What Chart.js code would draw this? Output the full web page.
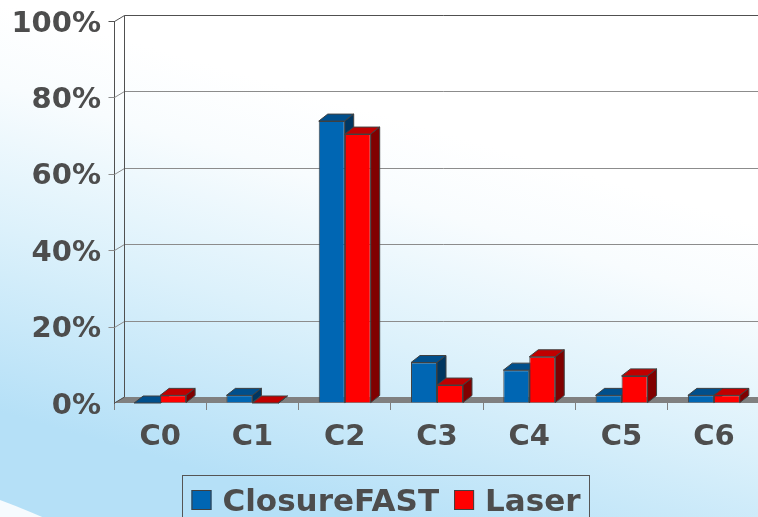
<!DOCTYPE html>
<html>
<head>
<meta charset="utf-8">
<script src="https://cdn.jsdelivr.net/npm/chart.js@4/dist/chart.umd.min.js"></script>
<style>
  html, body { margin: 0; padding: 0; overflow: hidden; background: #fff; }
  #wrap { width: 762px; height: 517px; }
</style>
</head>
<body>
<div id="wrap"><canvas id="c" width="762" height="517"></canvas></div>
<script>
// Share of cases per class, in percent
const categories = ['C0', 'C1', 'C2', 'C3', 'C4', 'C5', 'C6'];
const closureFast = [0, 2, 73.8, 10.6, 8.6, 2, 2];
const laser = [2, 0, 70.4, 4.7, 12.1, 7.1, 2];
const yTicks = [0, 20, 40, 60, 80, 100];

const TEXT = '#4d4d4d';
const FONT = '"DejaVu Sans", Verdana, sans-serif';
// front / top / side shades of each series' boxes
const SHADES = [
  { front: '#0066b3', top: '#004f8c', side: '#003660' },
  { front: '#ff0000', top: '#c00000', side: '#800000' }
];
const WALL = { dx: 10, dy: -6 };   // depth of the back wall
const BOX = { dx: 9, dy: -7 };     // depth of each bar

function poly(ctx, pts, fill, stroke) {
  ctx.beginPath();
  ctx.moveTo(pts[0][0], pts[0][1]);
  for (let i = 1; i < pts.length; i++) ctx.lineTo(pts[i][0], pts[i][1]);
  ctx.closePath();
  ctx.fillStyle = fill;
  ctx.fill();
  if (stroke) { ctx.strokeStyle = stroke; ctx.lineWidth = 1; ctx.stroke(); }
}

const scene = {
  id: 'scene3d',
  beforeDraw(chart) {
    const { ctx, width, height } = chart;
    ctx.save();
    const g = ctx.createLinearGradient(470, 140, 360, height);
    g.addColorStop(0, '#ffffff');
    g.addColorStop(0.2, '#f8fcfe');
    g.addColorStop(0.55, '#dcf1fb');
    g.addColorStop(1, '#b5e0f7');
    ctx.fillStyle = g;
    ctx.fillRect(0, 0, width, height);
    // pale swoosh in the lower left corner
    ctx.beginPath();
    ctx.ellipse(-300, 1306, 860, 860, 0, 0, Math.PI * 2);
    ctx.fillStyle = '#f6fbfe';
    ctx.fill();
    ctx.restore();
  },
  beforeDatasetsDraw(chart) {
    const { ctx, chartArea: a, scales: { y } } = chart;
    const L = a.left + 0.5, R = a.right + WALL.dx + 20;
    ctx.save();
    ctx.lineWidth = 1;
    // gridlines across the side and back walls
    y.ticks.forEach(t => {
      if (t.value === 0) return;
      const py = Math.round(y.getPixelForValue(t.value)) + 0.5;
      ctx.strokeStyle = t.value === 100 ? '#505050' : '#8c8c8c';
      ctx.beginPath();
      ctx.moveTo(L - 6, py);
      ctx.lineTo(L, py);
      ctx.lineTo(L + WALL.dx, py + WALL.dy);
      ctx.lineTo(R, py + WALL.dy);
      ctx.stroke();
    });
    // floor
    const b = y.getPixelForValue(0);
    poly(ctx, [[a.left, b], [a.right + 20, b], [a.right + 20 + WALL.dx, b + WALL.dy], [a.left + WALL.dx, b + WALL.dy]], '#808080');
    // back corner edge and side wall floor edge
    ctx.strokeStyle = '#505050';
    ctx.beginPath();
    ctx.moveTo(L + WALL.dx, Math.round(y.getPixelForValue(100)) + 0.5 + WALL.dy);
    ctx.lineTo(L + WALL.dx, b + WALL.dy);
    ctx.lineTo(L, b);
    ctx.stroke();
    ctx.restore();
  },
  // boxes are drawn below, series by series from left to right
  beforeDatasetDraw() { return false; },
  afterDatasetsDraw(chart) {
    const { ctx } = chart;
    ctx.save();
    chart.data.datasets.forEach((d, i) => {
      const shade = SHADES[i];
      chart.getDatasetMeta(i).data.forEach(bar => {
        bar.draw(ctx);
        const { x, y, base, width } = bar.getProps(['x', 'y', 'base', 'width'], true);
        const l = x - width / 2, r = x + width / 2, top = Math.min(y, base), bot = Math.max(y, base);
        poly(ctx, [[l, top], [r, top], [r + BOX.dx, top + BOX.dy], [l + BOX.dx, top + BOX.dy]], shade.top, '#404040');
        poly(ctx, [[r, top], [r + BOX.dx, top + BOX.dy], [r + BOX.dx, bot + BOX.dy], [r, bot]], shade.side, '#404040');
      });
    });
    ctx.restore();
  },
  afterDraw(chart) {
    // boxed legend under the category labels
    const { ctx } = chart;
    ctx.save();
    ctx.font = 'bold 31px ' + FONT;
    const sq = 20, gap = 11, between = 15;
    const items = chart.data.datasets.map((d, i) => ({ label: d.label, color: SHADES[i].front, w: ctx.measureText(d.label).width }));
    let total = 0;
    items.forEach((it, i) => { total += sq + gap + it.w + (i ? between : 0); });
    const cx = 386, top = 475;
    let x = cx - total / 2;
    ctx.strokeStyle = '#555';
    ctx.lineWidth = 1;
    ctx.strokeRect(Math.round(x - 9) + 0.5, top + 0.5, Math.round(total + 18), 80);
    ctx.textBaseline = 'alphabetic';
    ctx.textAlign = 'left';
    items.forEach((it, i) => {
      if (i) x += between;
      ctx.fillStyle = it.color;
      ctx.fillRect(x, top + 15, sq, sq);
      ctx.strokeStyle = '#404040';
      ctx.strokeRect(x + 0.5, top + 15.5, sq - 1, sq - 1);
      x += sq + gap;
      ctx.fillStyle = TEXT;
      ctx.fillText(it.label, x, top + 36);
      x += it.w;
    });
    ctx.restore();
  }
};

new Chart(document.getElementById('c'), {
  type: 'bar',
  data: {
    labels: categories,
    datasets: [
      { label: 'ClosureFAST', data: closureFast, backgroundColor: SHADES[0].front, borderColor: '#404040', borderWidth: 1 },
      { label: 'Laser', data: laser, backgroundColor: SHADES[1].front, borderColor: '#404040', borderWidth: 1 }
    ]
  },
  options: {
    responsive: false,
    animation: false,
    devicePixelRatio: 1,
    layout: { padding: { top: 21, right: 2, left: 0, bottom: 0 } },
    datasets: { bar: { categoryPercentage: 0.563, barPercentage: 1 } },
    plugins: { legend: { display: false }, tooltip: { enabled: false } },
    scales: {
      x: {
        grid: { display: true, drawOnChartArea: false, drawTicks: true, tickLength: 7, color: '#808080', offset: true },
        border: { display: false },
        ticks: { color: TEXT, font: { family: FONT, size: 29, weight: 'bold' }, padding: 10 },
        afterFit(s) { s.height = 114; s.paddingLeft = 0; s.paddingRight = 0; }
      },
      y: {
        min: 0, max: 100,
        afterBuildTicks(s) { s.ticks = yTicks.map(v => ({ value: v })); },
        grid: { display: true, drawOnChartArea: false, drawTicks: false, color: '#808080' },
        border: { display: true, color: '#505050' },
        ticks: { color: TEXT, font: { family: FONT, size: 29, weight: 'bold' }, padding: 13, labelOffset: 3, callback: v => v + '%' },
        afterFit(s) { s.width = 114; s.paddingTop = 0; s.paddingBottom = 0; }
      }
    }
  },
  plugins: [scene]
});
</script>
</body>
</html>
